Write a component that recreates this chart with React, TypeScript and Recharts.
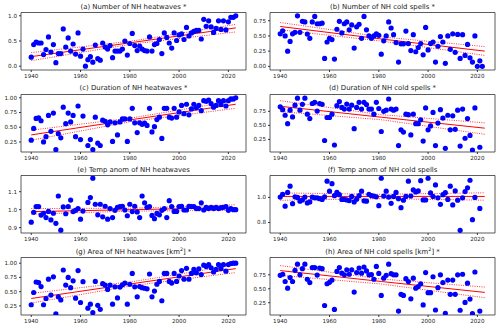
import React from 'react';
import { ComposedChart, Scatter, Line, XAxis, YAxis, ReferenceArea } from 'recharts';

// years on the x axis
const YEARS = [
  1940, 1941, 1942, 1943, 1944, 1945, 1946, 1947, 1948, 1949,
  1950, 1951, 1952, 1953, 1954, 1955, 1956, 1957, 1958, 1959,
  1960, 1961, 1962, 1963, 1964, 1965, 1966, 1967, 1968, 1969,
  1970, 1971, 1972, 1973, 1974, 1975, 1976, 1977, 1978, 1979,
  1980, 1981, 1982, 1983, 1984, 1985, 1986, 1987, 1988, 1989,
  1990, 1991, 1992, 1993, 1994, 1995, 1996, 1997, 1998, 1999,
  2000, 2001, 2002, 2003, 2004, 2005, 2006, 2007, 2008, 2009,
  2010, 2011, 2012, 2013, 2014, 2015, 2016, 2017, 2018, 2019,
  2020, 2021, 2022, 2023,
];
const X_TICKS = [1940, 1960, 1980, 2000, 2020];
const TREND_YEARS = [1940, 1981, 2023];

// (a) number of heatwaves
const heatNum = [
  0.18, 0.43, 0.48, 0.46, 0.46, 0.23, 0.33, 0.58, 0.28, 0.43,
  0.07, 0.25, 0.25, 0.74, 0.38, 0.56, 0.30, 0.44, 0.24, 0.66,
  0.20, 0.34, 0.0, 0.13, 0.19, 0.08, 0.42, 0.15, 0.12, 0.46,
  0.38, 0.34, 0.41, 0.17, 0.30, 0.30, 0.30, 0.34, 0.50, 0.22,
  0.45, 0.65, 0.41, 0.31, 0.40, 0.34, 0.31, 0.30, 0.58, 0.30,
  0.43, 0.45, 0.53, 0.25, 0.66, 0.57, 0.46, 0.36, 0.66, 0.51,
  0.62, 0.64, 0.53, 0.77, 0.60, 0.66, 0.69, 0.71, 0.71, 0.54,
  0.93, 0.79, 0.90, 0.78, 0.67, 0.75, 0.90, 0.73, 0.90, 0.72,
  0.88, 0.97, 0.97, 1.0,
];
const heatNumFit = [0.19, 0.47, 0.76];
const heatNumHi = [0.27, 0.5, 0.83];
const heatNumLo = [0.11, 0.44, 0.68];

// (b) number of cold spells
const coldNum = [
  0.535, 0.585, 0.5, 0.25, 0.41, 0.535, 0.56, 0.83, 0.56, 0.74,
  0.73, 0.53, 0.46, 0.73, 0.82, 0.70, 0.70, 0.71, 0.13, 0.40,
  0.46, 0.44, 0.12, 0.61, 0.74, 0.55, 0.70, 0.73, 0.60, 0.68,
  0.30, 0.65, 0.69, 0.46, 0.82, 0.60, 0.50, 0.46, 0.50, 0.535,
  0.51, 0.20, 0.42, 0.50, 0.73, 0.63, 0.52, 0.39, 0.07, 0.37,
  0.37, 0.58, 0.375, 0.26, 0.52, 0.24, 0.31, 0.375, 0.19, 0.64,
  0.27, 0.375, 0.40, 0.07, 0.33, 0.49, 0.40, 0.05, 0.50, 0.28,
  0.535, 0.23, 0.525, 0.13, 0.52, 0.18, 0.36, 0.14, 0.07, 0.50,
  0.0, 0.09, 0.0, null,
];
const coldNumFit = [0.655, 0.45, 0.25];
const coldNumHi = [0.72, 0.485, 0.325];
const coldNumLo = [0.6, 0.415, 0.18];

// (c) duration of heatwaves
const heatDur = [
  0.28, 0.48, 0.65, 0.66, 0.61, 0.25, 0.34, 0.70, 0.43, 0.74,
  0.12, 0.39, 0.32, 0.84, 0.56, 0.74, 0.59, 0.70, 0.34, 0.86,
  0.29, 0.69, null, 0.19, 0.29, 0.12, 0.67, 0.23, 0.19, 0.62,
  0.60, 0.54, 0.59, 0.26, 0.575, 0.37, 0.59, 0.64, 0.64, 0.26,
  0.64, 0.82, 0.575, 0.41, 0.575, 0.55, 0.57, 0.53, 0.82, 0.42,
  0.51, 0.63, 0.67, 0.31, 0.82, 0.82, 0.67, 0.655, 0.82, 0.67,
  0.76, 0.87, 0.73, 0.89, 0.71, 0.81, 0.89, 0.83, 0.87, 0.78,
  0.95, 0.94, 0.96, 0.90, 0.84, 0.87, 0.95, 0.885, 0.95, 0.86,
  0.95, 0.98, 0.98, 1.0,
];
const heatDurFit = [0.37, 0.63, 0.89];
const heatDurHi = [0.45, 0.66, 0.95];
const heatDurLo = [0.28, 0.6, 0.82];

// (d) duration of cold spells
const coldDur = [
  0.83, 0.78, 0.68, 0.53, 0.77, 0.65, 0.86, 0.985, 0.77, 0.875,
  0.985, 0.70, 0.62, 0.89, 0.91, 0.755, 0.89, 0.875, 0.23, 0.64,
  0.64, 0.70, 0.15, 0.85, 0.925, 0.82, 0.79, 0.88, 0.79, 0.86,
  0.44, 0.82, 0.91, 0.79, 0.91, 0.87, 0.79, 0.79, 0.70, 0.91,
  0.80, 0.39, 0.75, 0.77, 0.97, 0.79, 0.77, 0.79, 0.14, 0.42,
  0.38, 0.70, 0.69, 0.33, 0.70, 0.53, 0.53, 0.60, 0.22, 0.81,
  0.42, 0.49, 0.73, 0.14, 0.54, 0.78, 0.63, 0.09, 0.68, 0.42,
  0.67, 0.43, 0.77, 0.13, 0.79, 0.27, 0.62, 0.32, 0.06, 0.81,
  null, 0.11, null, null,
];
const coldDurFit = [0.84, 0.645, 0.45];
const coldDurHi = [0.94, 0.69, 0.545];
const coldDurLo = [0.745, 0.6, 0.34];

// (e) temperature anomaly of heatwaves
const heatTemp = [
  0.93, 0.985, 1.017, 1.017, 0.97, 0.98, 0.956, 0.99, 0.943, 0.98,
  0.924, 1.076, 0.886, 1.015, 0.977, 1.017, 1.053, 0.989, 0.996, 1.006,
  0.947, 0.992, null, 1.04, 1.067, 1.175, 1.03, 0.971, 1.03, 0.96,
  1.019, 0.947, 1.006, 0.956, 0.996, 1.013, 1.017, 1.019, 0.998, 0.966,
  1.03, 0.989, 1.019, 0.987, 0.956, 1.076, 1.038, 1.013, 1.017, 0.968,
  0.95, 0.979, 0.971, 0.996, 1.006, 0.956, 1.05, 1.017, 0.99, 0.99,
  1.017, 1.019, 0.998, 0.998, 1.019, 1.017, 1.017, 1.006, 1.006, 1.038,
  0.998, 1.013, 1.006, 1.013, 1.006, 1.013, 1.006, 1.011, 1.013, 1.017,
  0.996, 1.006, 1.0, 1.0,
];
const heatTempFit = [0.989, 1.0, 1.011];
const heatTempHi = [1.006, 1.008, 1.027];
const heatTempLo = [0.975, 0.992, 0.996];

// (f) temperature anomaly of cold spells
const coldTemp = [
  1.003, 1.025, 0.93, 1.04, 1.09, 0.95, 1.005, 1.0, 0.97, 0.98,
  1.003, 0.956, 0.964, 1.003, 0.997, 0.997, 0.99, 0.984, 1.005, 1.13,
  1.05, 1.11, 1.014, 1.04, 1.022, 0.984, 0.984, 0.98, 0.975, 1.008,
  0.964, 0.986, 1.014, 1.05, 0.973, 0.97, 1.025, 1.014, 1.011, 1.005,
  0.934, 1.153, 1.011, 1.05, 1.003, 0.953, 1.008, 1.04, 0.99, 0.918,
  0.978, 1.008, 1.13, 1.011, 1.06, 1.044, 1.052, 1.134, 0.98, 0.98,
  1.153, 1.036, 1.008, 1.1, 0.997, 0.945, 1.022, 1.038, 0.984, 1.09,
  0.94, 1.052, 0.978, 0.737, 0.997, 1.047, 1.077, 1.137, 0.822, 1.0,
  null, 0.912, null, null,
];
const coldTempFit = [1.008, 1.008, 1.008];
const coldTempHi = [1.036, 1.025, 1.037];
const coldTempLo = [0.977, 0.99, 0.978];

// (g) area of heatwaves
const heatArea = [
  0.27, 0.485, 0.67, 0.66, 0.59, 0.27, 0.38, 0.72, 0.44, 0.76,
  0.11, 0.41, 0.355, 0.88, 0.615, 0.75, 0.57, 0.69, 0.385, 0.87,
  0.31, 0.675, null, 0.21, 0.28, 0.13, 0.68, 0.26, 0.19, 0.64,
  0.615, 0.54, 0.615, 0.28, 0.585, 0.39, 0.58, 0.62, 0.65, 0.28,
  0.63, 0.82, 0.585, 0.41, 0.59, 0.57, 0.56, 0.55, 0.81, 0.41,
  0.51, 0.63, 0.68, 0.34, 0.82, 0.82, 0.68, 0.65, 0.82, 0.68,
  0.775, 0.87, 0.72, 0.91, 0.72, 0.82, 0.89, 0.83, 0.90, 0.80,
  0.965, 0.94, 0.975, 0.92, 0.845, 0.89, 0.975, 0.905, 0.975, 0.86,
  0.975, 0.995, 1.0, 1.0,
];
const heatAreaFit = [0.38, 0.64, 0.905];
const heatAreaHi = [0.47, 0.675, 0.97];
const heatAreaLo = [0.3, 0.605, 0.835];

// (h) area of cold spells
const coldArea = [
  0.74, 0.76, 0.63, 0.51, 0.70, 0.63, 0.83, 0.94, 0.75, 0.86,
  0.94, 0.67, 0.61, 0.88, 0.88, 0.745, 0.87, 0.86, 0.20, 0.59,
  0.615, 0.655, 0.13, 0.81, 0.88, 0.78, 0.75, 0.84, 0.76, 0.84,
  0.44, 0.79, 0.87, 0.78, 0.89, 0.82, 0.75, 0.755, 0.67, 0.90,
  0.775, 0.38, 0.69, 0.74, 0.94, 0.77, 0.75, 0.75, 0.10, 0.40,
  0.38, 0.68, 0.63, 0.32, 0.69, 0.51, 0.54, 0.59, 0.21, 0.79,
  0.43, 0.43, 0.715, 0.12, 0.52, 0.75, 0.61, 0.06, 0.655, 0.40,
  0.655, 0.40, 0.75, 0.115, 0.76, 0.255, 0.60, 0.315, 0.055, 0.80,
  null, 0.10, null, null,
];
const coldAreaFit = [0.826, 0.63, 0.435];
const coldAreaHi = [0.915, 0.675, 0.53];
const coldAreaLo = [0.74, 0.585, 0.34];

const X_DOMAIN: [number, number] = [1935.85, 2027.15];
const FONT = '"DejaVu Sans", sans-serif';

interface PanelProps {
  title: React.ReactNode;
  values: (number | null)[];
  fit: number[];
  hi: number[];
  lo: number[];
  yDomain: [number, number];
  yTicks: number[];
  digits: number;
  col: number;
  row: number;
}

const renderDot = (p: any) => <circle cx={p.cx} cy={p.cy} r={2.6} fill="#0000ff" />;

function Panel({ title, values, fit, hi, lo, yDomain, yTicks, digits, col, row }: PanelProps) {
  const points = YEARS.map((year, i) => ({ year, v: values[i] })).filter(d => d.v !== null);
  const trend = TREND_YEARS.map((year, i) => ({ year, fit: fit[i], hi: hi[i], lo: lo[i] }));
  const yAxisWidth = col === 0 ? 21 : 20;
  const rightMargin = col === 0 ? 4 : 5;

  return (
    <div style={{ position: 'absolute', left: col * 250, top: row * 81.7, width: 250, height: 82 }}>
      <div
        style={{
          position: 'absolute',
          left: yAxisWidth,
          width: 225,
          top: 1.5,
          textAlign: 'center',
          fontSize: 6.9,
          lineHeight: '10px',
          color: '#222',
          whiteSpace: 'nowrap',
        }}
      >
        {title}
      </div>
      <ComposedChart width={250} height={82} margin={{ top: 12.5, right: rightMargin, bottom: 0, left: 0 }}>
        <XAxis
          type="number"
          dataKey="year"
          domain={X_DOMAIN}
          ticks={X_TICKS}
          interval={0}
          allowDataOverflow
          height={12}
          axisLine={false}
          tickSize={2}
          tickMargin={2}
          tickLine={{ stroke: '#333' }}
          tick={{ fontSize: 5.6, fill: '#222', fontFamily: FONT }}
        />
        <YAxis
          type="number"
          domain={yDomain}
          ticks={yTicks}
          interval={0}
          allowDataOverflow
          width={yAxisWidth}
          axisLine={false}
          tickSize={2}
          tickMargin={2}
          tickLine={{ stroke: '#333' }}
          tick={{ fontSize: 5.6, fill: '#222', fontFamily: FONT }}
          tickFormatter={(v: number) => v.toFixed(digits)}
        />
        <ReferenceArea
          x1={X_DOMAIN[0]}
          x2={X_DOMAIN[1]}
          y1={yDomain[0]}
          y2={yDomain[1]}
          fill="none"
          stroke="#333"
          strokeWidth={0.8}
          ifOverflow="visible"
        />
        <Scatter data={points} dataKey="v" fill="#0000ff" shape={renderDot} isAnimationActive={false} />
        <Line data={trend} dataKey="fit" type="linear" stroke="#ff0000" strokeWidth={1} dot={false} isAnimationActive={false} />
        <Line data={trend} dataKey="hi" type="linear" stroke="#ff0000" strokeWidth={0.8} strokeDasharray="1 1.3" dot={false} isAnimationActive={false} />
        <Line data={trend} dataKey="lo" type="linear" stroke="#ff0000" strokeWidth={0.8} strokeDasharray="1 1.3" dot={false} isAnimationActive={false} />
      </ComposedChart>
    </div>
  );
}

const km2 = <>km<sup style={{ fontSize: '0.7em', lineHeight: 0 }}>2</sup></>;

export default function App() {
  return (
    <div style={{ position: 'absolute', left: 0, top: 0, width: 500, height: 330, background: '#fff', fontFamily: FONT }}>
      <Panel title="(a) Number of NH heatwaves *" values={heatNum} fit={heatNumFit} hi={heatNumHi} lo={heatNumLo}
        yDomain={[-0.075, 1.065]} yTicks={[0, 0.5, 1]} digits={1} col={0} row={0} />
      <Panel title="(b) Number of NH cold spells *" values={coldNum} fit={coldNumFit} hi={coldNumHi} lo={coldNumLo}
        yDomain={[-0.06, 0.885]} yTicks={[0, 0.25, 0.5, 0.75]} digits={2} col={1} row={0} />
      <Panel title="(c) Duration of NH heatwaves *" values={heatDur} fit={heatDurFit} hi={heatDurHi} lo={heatDurLo}
        yDomain={[0.08, 1.055]} yTicks={[0.25, 0.5, 0.75, 1]} digits={2} col={0} row={1} />
      <Panel title="(d) Duration of NH cold spells *" values={coldDur} fit={coldDurFit} hi={coldDurHi} lo={coldDurLo}
        yDomain={[0.025, 1.05]} yTicks={[0.25, 0.5, 0.75]} digits={2} col={1} row={1} />
      <Panel title="(e) Temp anom of NH heatwaves" values={heatTemp} fit={heatTempFit} hi={heatTempHi} lo={heatTempLo}
        yDomain={[0.87, 1.19]} yTicks={[0.9, 1.0, 1.1]} digits={1} col={0} row={2} />
      <Panel title="(f) Temp anom of NH cold spells" values={coldTemp} fit={coldTempFit} hi={coldTempHi} lo={coldTempLo}
        yDomain={[0.716, 1.175]} yTicks={[0.8, 1.0]} digits={1} col={1} row={2} />
      <Panel title={<>(g) Area of NH heatwaves [{km2}] *</>} values={heatArea} fit={heatAreaFit} hi={heatAreaHi} lo={heatAreaLo}
        yDomain={[0.09, 1.1]} yTicks={[0.25, 0.5, 0.75, 1]} digits={2} col={0} row={3} />
      <Panel title={<>(h) Area of NH cold spells [{km2}] *</>} values={coldArea} fit={coldAreaFit} hi={coldAreaHi} lo={coldAreaLo}
        yDomain={[0.03, 1.06]} yTicks={[0.25, 0.5, 0.75]} digits={2} col={1} row={3} />
    </div>
  );
}
